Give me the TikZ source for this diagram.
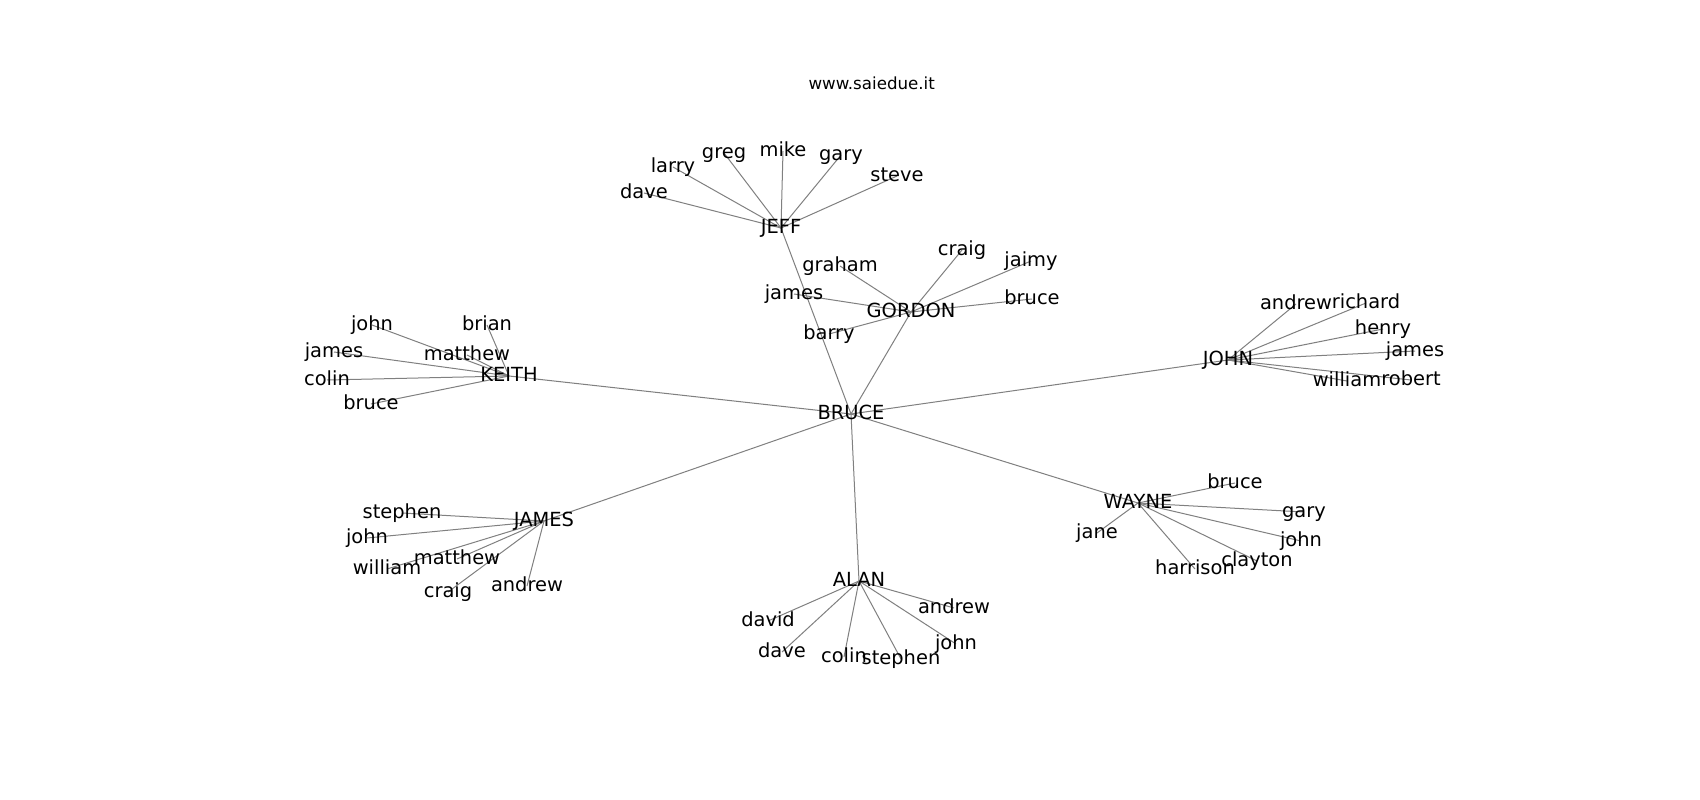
\documentclass[tikz,border=0pt]{standalone}
\usepackage{fontspec}
\setmainfont{DejaVu Sans}
\pgfdeclarelayer{bottom}
\pgfdeclarelayer{edges}
\pgfsetlayers{bottom,edges,main}
\tikzset{
  lbl/.style={inner sep=0pt, anchor=center, text height=14.8pt, text depth=4.6pt,
    font=\fontsize{19.44}{23}\selectfont},
  ttl/.style={inner sep=0pt, anchor=center, font=\fontsize{16.67}{20}\selectfont},
  edge/.style={draw={rgb,255:red,128;green,128;blue,128}, line width=1pt}
}
\begin{document}
\begin{tikzpicture}[x=1pt,y=-1pt]
\begin{pgfonlayer}{bottom}
\fill[white] (0,0) rectangle (1700,800);
\end{pgfonlayer}
\useasboundingbox (0,0) rectangle (1700,800);
\begin{scope}[shift={(0,2)}]
\node[ttl] (title) at (871.7,81.7) {www.saiedue.it};
% hubs
\node[lbl] (BRUCE) at (851,412) {BRUCE};
\node[lbl] (JEFF) at (781,226) {JEFF};
\node[lbl] (GORDON) at (911,310) {GORDON};
\node[lbl] (KEITH) at (509,374) {KEITH};
\node[lbl] (JOHN) at (1228,358) {JOHN};
\node[lbl] (JAMES) at (544,519) {JAMES};
\node[lbl] (ALAN) at (859,579) {ALAN};
\node[lbl] (WAYNE) at (1138,501) {WAYNE};
% JEFF leaves
\node[lbl] (daveJ) at (644,191) {dave};
\node[lbl] (larry) at (673,165) {larry};
\node[lbl] (greg) at (724,151) {greg};
\node[lbl] (mike) at (783,149) {mike};
\node[lbl] (garyJ) at (841,153) {gary};
\node[lbl] (steve) at (897,174) {steve};
% GORDON leaves
\node[lbl] (graham) at (840,264) {graham};
\node[lbl] (craigG) at (962,248) {craig};
\node[lbl] (jaimy) at (1031,259) {jaimy};
\node[lbl] (jamesG) at (794,292) {james};
\node[lbl] (bruceG) at (1032,297) {bruce};
\node[lbl] (barry) at (829,332) {barry};
% KEITH leaves
\node[lbl] (johnK) at (372,323) {john};
\node[lbl] (brian) at (487,323) {brian};
\node[lbl] (jamesK) at (334,350) {james};
\node[lbl] (matthewK) at (467,353) {matthew};
\node[lbl] (colinK) at (327,378) {colin};
\node[lbl] (bruceK) at (371,402) {bruce};
% JOHN leaves
\node[lbl] (andrewJo) at (1296,302) {andrew};
\node[lbl] (richard) at (1366,301) {richard};
\node[lbl] (henry) at (1383,327) {henry};
\node[lbl] (jamesJo) at (1415,349) {james};
\node[lbl] (williamJo) at (1347,379) {william};
\node[lbl] (robert) at (1411,378) {robert};
% JAMES leaves
\node[lbl] (stephenJa) at (402,511) {stephen};
\node[lbl] (johnJa) at (367,536) {john};
\node[lbl] (matthewJa) at (457,557) {matthew};
\node[lbl] (williamJa) at (387,567) {william};
\node[lbl] (craigJa) at (448,590) {craig};
\node[lbl] (andrewJa) at (527,584) {andrew};
% ALAN leaves
\node[lbl] (david) at (768,619) {david};
\node[lbl] (daveA) at (782,650) {dave};
\node[lbl] (colinA) at (844,655) {colin};
\node[lbl] (stephenA) at (901,657) {stephen};
\node[lbl] (andrewA) at (954,606) {andrew};
\node[lbl] (johnA) at (956,642) {john};
% WAYNE leaves
\node[lbl] (bruceW) at (1235,481) {bruce};
\node[lbl] (garyW) at (1304,510) {gary};
\node[lbl] (jane) at (1097,531) {jane};
\node[lbl] (johnW) at (1301,539) {john};
\node[lbl] (clayton) at (1257,559) {clayton};
\node[lbl] (harrison) at (1195,567) {harrison};
\end{scope}
\begin{pgfonlayer}{edges}
\foreach \h in {JEFF,GORDON,KEITH,JOHN,JAMES,ALAN,WAYNE}
  \draw[edge] (BRUCE.center) -- (\h.center);
\foreach \l in {daveJ,larry,greg,mike,garyJ,steve}
  \draw[edge] (JEFF.center) -- (\l.center);
\foreach \l in {graham,craigG,jaimy,jamesG,bruceG,barry}
  \draw[edge] (GORDON.center) -- (\l.center);
\foreach \l in {johnK,brian,jamesK,matthewK,colinK,bruceK}
  \draw[edge] (KEITH.center) -- (\l.center);
\foreach \l in {andrewJo,richard,henry,jamesJo,williamJo,robert}
  \draw[edge] (JOHN.center) -- (\l.center);
\foreach \l in {stephenJa,johnJa,matthewJa,williamJa,craigJa,andrewJa}
  \draw[edge] (JAMES.center) -- (\l.center);
\foreach \l in {david,daveA,colinA,stephenA,andrewA,johnA}
  \draw[edge] (ALAN.center) -- (\l.center);
\foreach \l in {bruceW,garyW,jane,johnW,clayton,harrison}
  \draw[edge] (WAYNE.center) -- (\l.center);
\end{pgfonlayer}
\end{tikzpicture}
\end{document}
